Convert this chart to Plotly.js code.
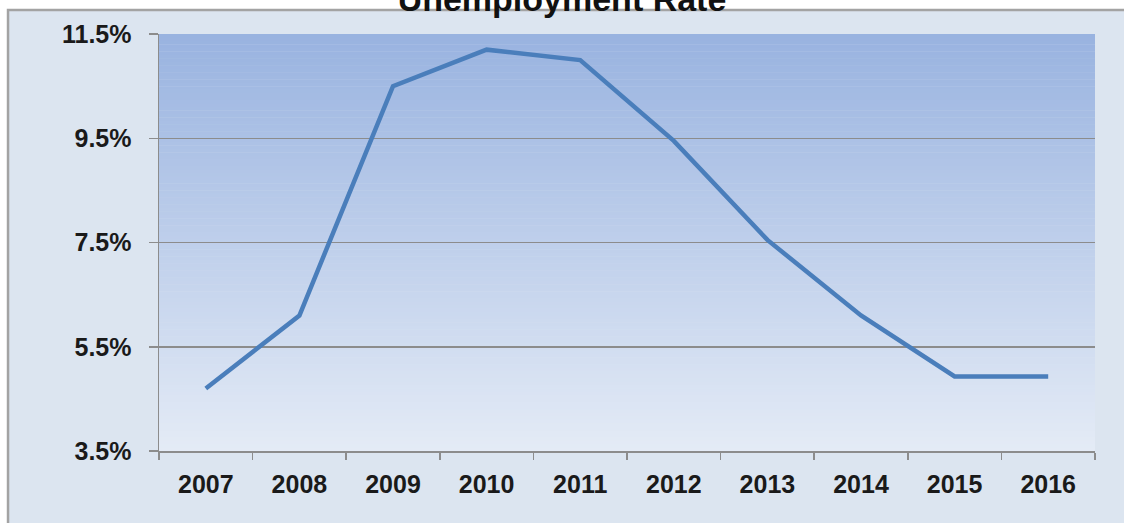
<!DOCTYPE html>
<html>
<head>
<meta charset="utf-8">
<script src="https://cdn.plot.ly/plotly-3.0.1.min.js"></script>
<style>
  html, body { margin: 0; padding: 0; background: #ffffff; }
  #chart { width: 1124px; height: 523px; }
</style>
</head>
<body>
<div id="chart"></div>
<script>
// Data
const years = ["2007", "2008", "2009", "2010", "2011", "2012", "2013", "2014", "2015", "2016"];
const unemploymentRate = [4.7, 6.1, 10.5, 11.2, 11.0, 9.45, 7.55, 6.1, 4.93, 4.93];
const yTickValues = [3.5, 5.5, 7.5, 9.5, 11.5];
const yTickLabels = ["3.5%", "5.5%", "7.5%", "9.5%", "11.5%"];

// Background: outer panel + vertical gradient in the plot area (stripes)
function hexToRgb(h) {
  return [parseInt(h.slice(1, 3), 16), parseInt(h.slice(3, 5), 16), parseInt(h.slice(5, 7), 16)];
}
const topColor = hexToRgb("#99b3e0");
const bottomColor = hexToRgb("#e4ebf6");
const shapes = [{
  type: "rect", xref: "paper", yref: "paper",
  x0: -0.1613, x1: 1.06, y0: -0.25, y1: 1.0576,
  fillcolor: "#dce5f0", line: { color: "#a3a3a3", width: 2.5 }, layer: "below"
}];
const nStripes = 120;
for (let i = 0; i < nStripes; i++) {
  const t = i / (nStripes - 1);
  const c = topColor.map((v, k) => Math.round(v + (bottomColor[k] - v) * t));
  shapes.push({
    type: "rect", xref: "paper", yref: "paper",
    x0: 0, x1: 1,
    y1: 1 - i / nStripes, y0: 1 - (i + 1) / nStripes - 0.001,
    fillcolor: "rgb(" + c.join(",") + ")", line: { width: 0 }, layer: "below"
  });
}

const trace = {
  type: "scatter",
  mode: "lines",
  x: years,
  y: unemploymentRate,
  line: { color: "#4a7ebb", width: 4.5 },
  hoverinfo: "x+y"
};

const tickFont = { family: "Liberation Sans, Arial, sans-serif", size: 25, color: "#1a1a1a", weight: "bold" };

const layout = {
  width: 1124,
  height: 523,
  margin: { l: 159, r: 29, t: 34, b: 72 },
  paper_bgcolor: "#ffffff",
  plot_bgcolor: "rgba(0,0,0,0)",
  showlegend: false,
  title: {
    text: "<b>Unemployment Rate</b>",
    font: { family: "Liberation Sans, Arial, sans-serif", size: 34, color: "#111111" },
    x: 0.5, xref: "container", xanchor: "center",
    y: 0.979, yref: "container", yanchor: "bottom"
  },
  xaxis: {
    type: "category",
    range: [-0.5, 9.5],
    showgrid: false,
    showline: true,
    linecolor: "#8c8c8c",
    linewidth: 1.5,
    ticks: "outside",
    tickson: "boundaries",
    ticklen: 7,
    tickcolor: "#8c8c8c",
    tickwidth: 1.5,
    tickfont: tickFont,
    ticklabelstandoff: 10,
    zeroline: false,
    fixedrange: true
  },
  yaxis: {
    range: [3.5, 11.5],
    tickmode: "array",
    tickvals: yTickValues,
    ticktext: yTickLabels,
    showgrid: true,
    gridcolor: "#8c8c8c",
    gridwidth: 1.5,
    showline: true,
    linecolor: "#8c8c8c",
    linewidth: 1.5,
    ticks: "outside",
    ticklen: 9,
    tickcolor: "#8c8c8c",
    tickwidth: 1.5,
    tickfont: tickFont,
    ticklabelstandoff: 12,
    zeroline: false,
    fixedrange: true
  },
  shapes: shapes
};

Plotly.newPlot("chart", [trace], layout, { displayModeBar: false, staticPlot: true });
</script>
</body>
</html>
